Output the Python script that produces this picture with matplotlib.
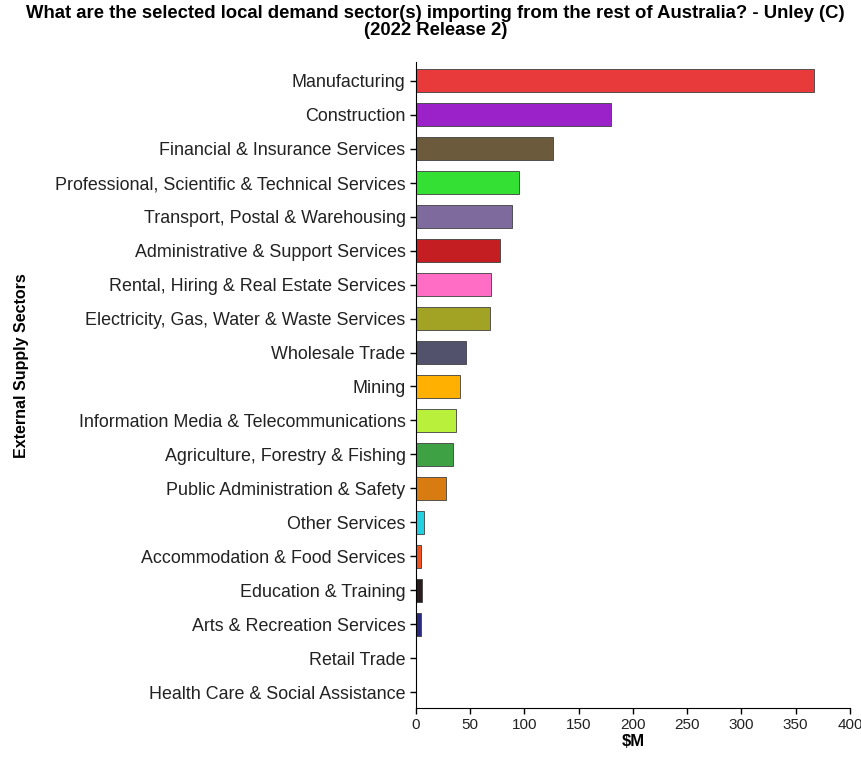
import numpy as np
import matplotlib
matplotlib.use("Agg")
import matplotlib.pyplot as plt

plt.rcParams['font.family'] = ['Liberation Sans', 'DejaVu Sans']

sectors = [
    'Manufacturing', 'Construction', 'Financial & Insurance Services',
    'Professional, Scientific & Technical Services', 'Transport, Postal & Warehousing',
    'Administrative & Support Services', 'Rental, Hiring & Real Estate Services',
    'Electricity, Gas, Water & Waste Services', 'Wholesale Trade', 'Mining',
    'Information Media & Telecommunications', 'Agriculture, Forestry & Fishing',
    'Public Administration & Safety', 'Other Services', 'Accommodation & Food Services',
    'Education & Training', 'Arts & Recreation Services', 'Retail Trade',
    'Health Care & Social Assistance',
]
values = [367, 180, 126, 95, 88.5, 77, 69, 68, 46, 40.5, 37, 34, 28, 7, 5, 5.5, 4.5, 0, 0]
colors = ['#E83A3A', '#9A22C8', '#6B5A3C', '#35E035', '#7E6A9C', '#C41E22', '#FF6EC4',
          '#A2A224', '#52526C', '#FFB000', '#B8F03C', '#3EA244', '#D87C12', '#22D0E2',
          '#F05222', '#2A1C1C', '#2A2A80', '#888888', '#888888']
xticks = [0, 50, 100, 150, 200, 250, 300, 350, 400]

fig = plt.figure(figsize=(8.62, 7.64), dpi=100)
ax = fig.add_axes([0.4826, 0.0733, 0.5034, 0.8457])

ind = np.arange(len(sectors))
ax.barh(ind, values, height=0.68, color=colors, edgecolor='#404040', linewidth=0.6)

ax.set_ylim(18.47, -0.56)
ax.set_xlim(0, 400)
ax.set_yticks(ind)
ax.set_yticklabels(sectors, fontsize=12.9, color='#222222')
ax.set_xticks(xticks)
ax.set_xticklabels([str(t) for t in xticks], fontsize=11, color='#222222')
ax.spines['top'].set_visible(False)
ax.spines['right'].set_visible(False)
ax.tick_params(axis='both', length=4, width=1)

ax.set_xlabel('$M', fontsize=12, fontweight='bold', labelpad=1)
ax.set_ylabel('External Supply Sectors', fontsize=11.5, fontweight='bold')
ax.yaxis.set_label_coords(-0.893, 0.53)

fig.suptitle('What are the selected local demand sector(s) importing from the rest of Australia? - Unley (C)\n(2022 Release 2)',
             fontsize=13.3, fontweight='bold', x=0.505, y=0.993, linespacing=0.95)

fig.savefig('out.png', dpi=100)
